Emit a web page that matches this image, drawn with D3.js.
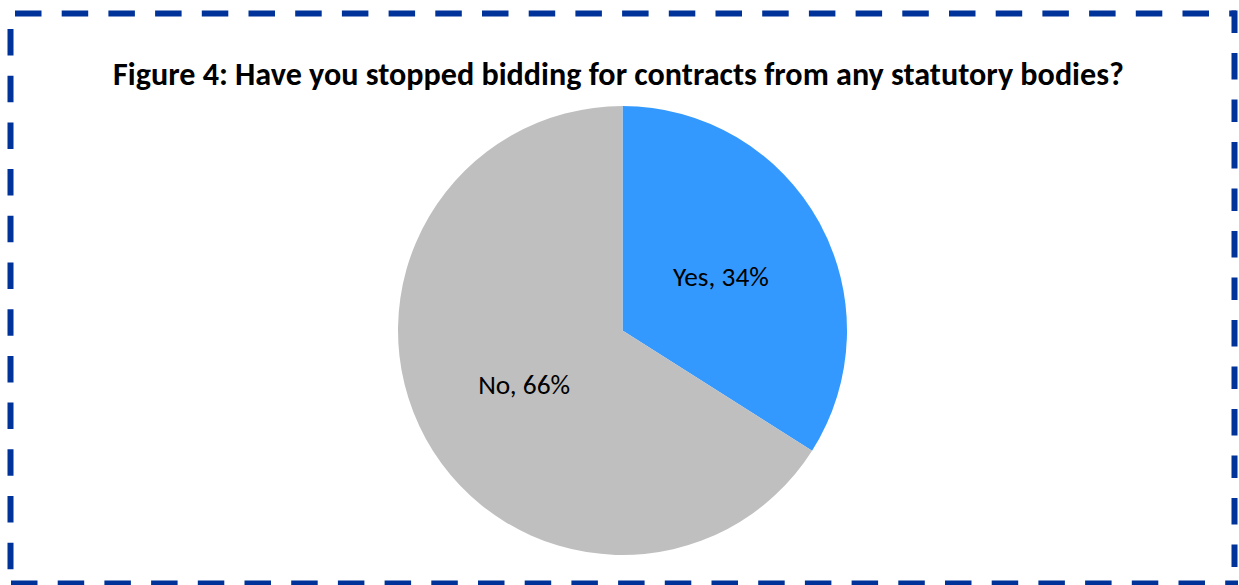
<!DOCTYPE html>
<html>
<head>
<meta charset="utf-8">
<script src="https://cdn.jsdelivr.net/npm/d3@7"></script>
<style>
  html, body { margin: 0; padding: 0; background: #ffffff; }
  svg { display: block; }
</style>
</head>
<body>
<svg id="chart" width="1239" height="585"></svg>
<script>
// Survey answers
const categories = ["Yes", "No"];
const shares = [34, 66];
const sliceColors = ["#3399FF", "#BFBFBF"];
const titleText = "Figure 4: Have you stopped bidding for contracts from any statutory bodies?";

const W = 1239, H = 585;
const svg = d3.select("#chart");
const fontStack = "Carlito, Calibri, Lato, 'Open Sans', sans-serif";

// Dashed frame, one line per side
const frameColor = "#003399";
const frame = svg.append("g")
  .attr("fill", "none")
  .attr("stroke", frameColor)
  .attr("stroke-width", 6)
  .attr("stroke-dasharray", "26.5 20.2");
frame.append("line").attr("x1", 15).attr("y1", 13.5).attr("x2", 1236).attr("y2", 13.5);
frame.append("line").attr("x1", 1234.5).attr("y1", 10.5).attr("x2", 1234.5).attr("y2", 588)
  .attr("stroke-dasharray", "22.5 20 26.5 20");
frame.append("line").attr("x1", 10.5).attr("y1", 29).attr("x2", 10.5).attr("y2", 570);
frame.append("line").attr("x1", 11).attr("y1", 583.5).attr("x2", 1238).attr("y2", 583.5);

// Title, sized to span its line
const title = svg.append("text")
  .attr("x", 618.5)
  .attr("y", 85)
  .attr("text-anchor", "middle")
  .attr("font-family", fontStack)
  .attr("font-weight", "bold")
  .attr("font-size", 28)
  .attr("fill", "#000")
  .text(titleText);
const tw = title.node().getComputedTextLength();
title.attr("font-size", 28 * 1011 / tw);

// Pie
const cx = 622.5, cy = 330.5, radius = 224.5;
const data = categories.map((c, i) => ({ category: c, value: shares[i], color: sliceColors[i] }));
const pie = d3.pie().value(d => d.value).sort(null);
const arc = d3.arc().innerRadius(0).outerRadius(radius);
const labelArc = d3.arc().innerRadius(radius * 0.5).outerRadius(radius * 0.5);

const g = svg.append("g").attr("transform", `translate(${cx},${cy})`);
const arcs = pie(data);

g.selectAll("path.slice")
  .data(arcs)
  .join("path")
  .attr("class", "slice")
  .attr("d", arc)
  .attr("fill", d => d.data.color);

const labels = g.selectAll("text.label")
  .data(arcs)
  .join("text")
  .attr("class", "label")
  .attr("transform", d => {
    const [x, y] = labelArc.centroid(d);
    return `translate(${x},${y})`;
  })
  .attr("text-anchor", "middle")
  .attr("dy", "0.35em")
  .attr("font-family", fontStack)
  .attr("font-size", 23)
  .attr("fill", "#000")
  .text(d => `${d.data.category}, ${d.data.value}%`);

// Keep label width in line with the slice labels' size
const yesW = labels.filter((d, i) => i === 0).node().getComputedTextLength();
labels.attr("font-size", 23 * 96 / yesW);
</script>
</body>
</html>
